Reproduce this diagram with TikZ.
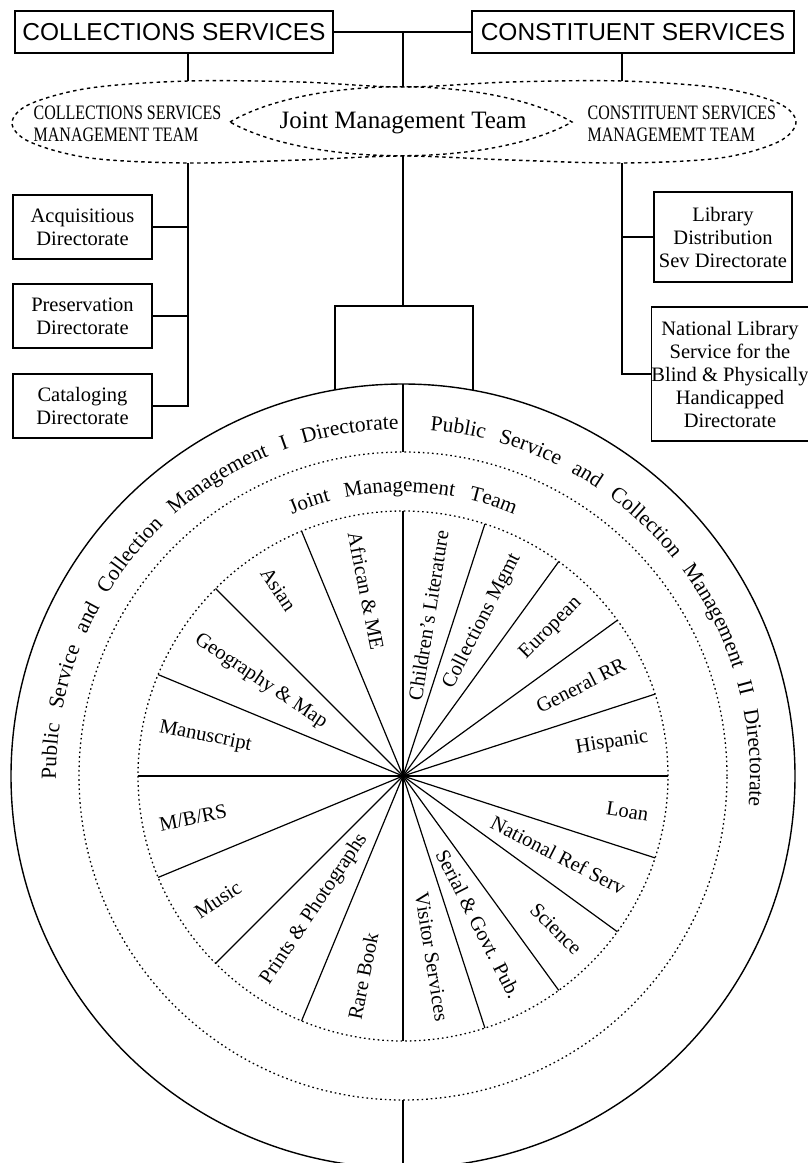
\documentclass[tikz,border=0pt]{standalone}
\usepackage{fontspec}
\setmainfont{Liberation Serif}
\newfontfamily\headfont{Liberation Sans}
\newfontfamily\teamfont[FakeStretch=0.78]{Liberation Serif}
\usetikzlibrary{decorations.text}

\begin{document}
\begin{tikzpicture}[x=1pt,y=1pt,line width=1.4pt,
    headbox/.style={draw,minimum height=42pt,inner sep=0pt,font=\headfont\fontsize{24.5}{26}\selectfont},
    dirbox/.style={draw,align=center,inner sep=0pt,font=\fontsize{20.5}{23}\selectfont},
    teamlabel/.style={align=left,inner sep=0pt,anchor=west,font=\teamfont\fontsize{20.5}{21.5}\selectfont},
    ring/.style={dash pattern=on 1.6pt off 3pt,line width=1.3pt},
    cloud/.style={dash pattern=on 3.5pt off 3.5pt,line width=1.4pt},
    spoke/.style={line width=1.2pt},
    pielabel/.style={inner sep=1pt,font=\fontsize{20.5}{20.5}\selectfont}]
  \useasboundingbox (0,0) rectangle (808,-1163);

  % top boxes
  \node[headbox,minimum width=318pt] (coll) at (174,-32) {COLLECTIONS SERVICES};
  \node[headbox,minimum width=322pt] (const) at (633,-32) {CONSTITUENT SERVICES};

  % management teams
  \coordinate (ctop) at (403,-87);
  \coordinate (cbot) at (403,-156);
  \coordinate (ltop) at (188,-81);
  \coordinate (lbot) at (188,-163);
  \coordinate (rtop) at (622,-81);
  \coordinate (rbot) at (622,-163);
  \draw[cloud] plot[smooth cycle,tension=0.55] coordinates {(403,-87) (300,-82) (188,-81) (90,-88) (30,-104) (12,-123)
    (30,-142) (90,-158) (188,-163) (300,-160) (403,-156) (510,-160) (622,-163) (720,-158) (778,-142) (796,-122)
    (778,-103) (720,-88) (622,-81) (510,-82)};
  \draw[cloud] (230,-122) .. controls (310,-75) and (492,-75) .. (572,-122) .. controls (492,-167) and (310,-167) .. (230,-122);
  \node[font=\fontsize{25}{25}\selectfont] (jmt) at (403,-123) {Joint Management Team};
  \node[teamlabel] (colltm) at (33,-124) {COLLECTIONS SERVICES\\MANAGEMENT TEAM};
  \node[teamlabel] (consttm) at (587,-124) {CONSTITUENT SERVICES\\MANAGEMEMT TEAM};

  \draw (coll.east) -- (const.west);
  \draw (coll.east -| ctop) -- (ctop);
  \draw (coll.south -| ltop) -- (ltop);
  \draw (const.south -| rtop) -- (rtop);

  % directorates
  \node[dirbox,minimum width=139pt,minimum height=64pt] (acq) at (82.5,-227) {Acquisitious\\Directorate};
  \node[dirbox,minimum width=139pt,minimum height=64pt] (pres) at (82.5,-316) {Preservation\\Directorate};
  \node[dirbox,minimum width=139pt,minimum height=64pt] (cat) at (82.5,-406) {Cataloging\\Directorate};
  \node[dirbox,minimum width=138pt,minimum height=90pt] (lds) at (723,-237) {Library\\Distribution\\Sev Directorate};
  \node[dirbox,minimum width=152pt,minimum height=134pt] (nls) at (730,-374) {National Library\\Service for the\\Blind \& Physically\\Handicapped\\Directorate};
  \draw (lbot) |- (cat.east);
  \draw (acq.east) -- (acq.east -| lbot);
  \draw (pres.east) -- (pres.east -| lbot);
  \draw (rbot) |- (nls.west);
  \draw (lds.west) -- (lds.west -| rbot);

  % reading rooms
  \begin{scope}[shift={(403,-776)}]
    \coordinate (hub) at (0,0);
    \draw (cbot) -- (0,470);
    \draw (-68,386.1) -- (-68,470) -- (70,470) -- (70,385.7);
    \draw (hub) circle[radius=392];
    \draw[ring] (hub) circle[radius=324];
    \draw[ring] (hub) circle[radius=265];
    \draw (0,392) -- (0,324);
    \draw (0,-324) -- (0,-400);
    \foreach \a in {112.5,135,157.5,202.5,225,247.5,72,54,36,18,-18,-36,-54,-72}
      \draw[spoke] (hub) -- (\a:265);
    \draw[line width=1.8pt] (0,265) -- (0,-265) (-265,0) -- (265,0);
    \foreach \a/\t [count=\i] in {168.75/Manuscript,146.25/Geography \& Map,123.75/Asian,101.25/African \& ME,
        191.25/{M/B/RS},213.75/Music,236.25/Prints \& Photographs,258.75/Rare Book}
      \node[pielabel,anchor=west,rotate=\a+180] (left\i) at (\a:250) {\t};
    \foreach \a/\t [count=\i] in {81/Children's Literature,63/Collections Mgmt,45/European,27/General RR,9/Hispanic,
        -9/Loan,-27/National Ref Serv,-45/Science,-63/Serial \& Govt. Pub.,-81/Visitor Services}
      \node[pielabel,anchor=east,rotate=\a] (right\i) at (\a:250) {\t};
    \path[decorate,decoration={text along path,text align={fit to path stretching spaces},
        text={|\fontsize{21.5}{21.5}\selectfont|Public Service and Collection Management I Directorate}}]
      (180.5:347) arc[start angle=180.5,end angle=90.8,radius=347];
    \path[decorate,decoration={text along path,text align={fit to path stretching spaces},
        text={|\fontsize{21.5}{21.5}\selectfont|Public Service and Collection Management II Directorate}}]
      (85.5:347) arc[start angle=85.5,end angle=-5,radius=347];
    \path[decorate,decoration={text along path,text align={fit to path stretching spaces},
        text={|\fontsize{21}{21}\selectfont|Joint Management Team}}]
      (113:284) arc[start angle=113,end angle=67,radius=284];
  \end{scope}
\end{tikzpicture}
\end{document}
